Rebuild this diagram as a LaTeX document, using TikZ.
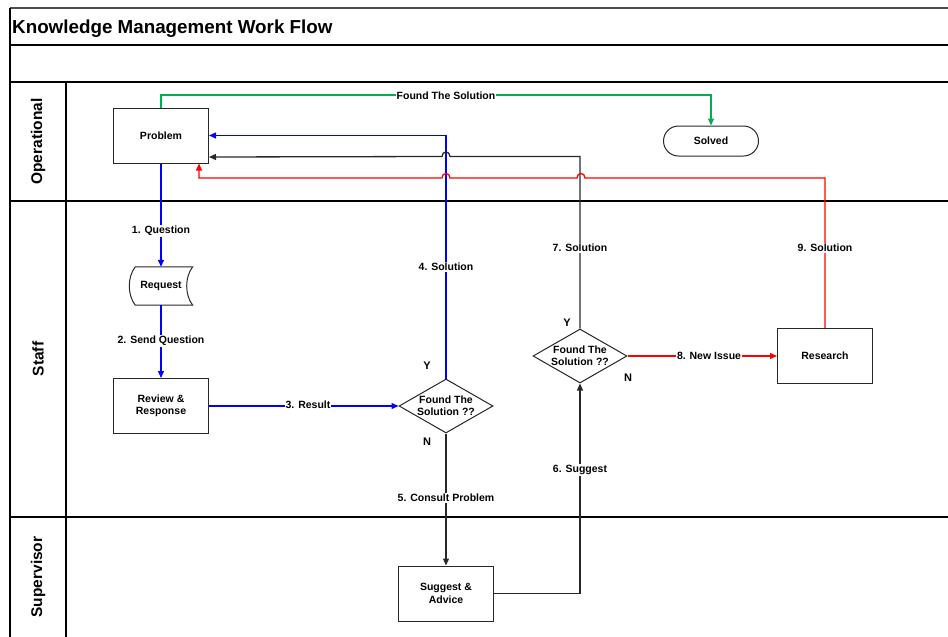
\documentclass[tikz,border=0pt]{standalone}
\usepackage{fontspec}
\setmainfont{Liberation Sans}
\usetikzlibrary{arrows.meta,shapes.geometric}
\newcommand\kmfont{\fontsize{10.5}{12.5}\selectfont\bfseries}
\definecolor{kmgreen}{RGB}{0,176,80}
\definecolor{kmblue}{RGB}{0,0,255}
\definecolor{kmred}{RGB}{255,0,0}
\definecolor{kmline}{RGB}{40,40,40}
\begin{document}
\begin{tikzpicture}[x=1pt,y=-1pt,
  box/.style={draw=kmline, line width=1pt, minimum width=95pt, minimum height=55pt, inner sep=0pt, font=\kmfont, align=center},
  decision/.style={diamond, draw=kmline, line width=1pt, minimum width=94pt, minimum height=54pt, inner sep=0pt},
  txt/.style={font=\kmfont, align=center, inner sep=0pt},
  lbl/.style={fill=white, inner sep=1pt, font=\kmfont},
  lane/.style={rotate=90, font=\fontsize{15.5}{18}\selectfont\bfseries, inner sep=0pt},
  yn/.style={font=\fontsize{11}{13}\selectfont\bfseries, inner sep=0pt},
  conn/.style={line width=1.3pt, -{Triangle[length=7pt,width=6pt]}},
  frame/.style={line width=1.1pt, black}
]
\useasboundingbox (0,0) rectangle (948,637);
% frame
\draw[line width=1.8pt, black!70] (10,8) -- (948,8);
\draw[frame] (10,8) -- (10,637);
\draw[frame] (10,45) -- (948,45);
\draw[frame] (10,82) -- (948,82);
\draw[frame] (10,201) -- (948,201);
\draw[frame] (10,517) -- (948,517);
\draw[frame] (66,82) -- (66,637);
\node[anchor=base west, font=\fontsize{18.8}{22}\selectfont\bfseries, inner sep=0pt] (title) at (12,33) {Knowledge Management Work Flow};
\node[lane] (lop) at (38,141.5) {Operational};
\node[lane] (lst) at (38,359) {Staff};
\node[lane] (lsu) at (38,577) {Supervisor};
% nodes
\node[box] (problem) at (161,135.5) {Problem};
\node[draw=kmline, line width=1pt, rounded corners=15pt, minimum width=95pt, minimum height=30pt, inner sep=0pt, font=\kmfont] (solved) at (711,141) {Solved};
\node[inner sep=0pt, minimum width=63pt, minimum height=38pt, font=\kmfont] (request) at (161,286) {Request};
\draw[draw=kmline, line width=1pt] ([xshift=6pt]request.north west) -- (request.north east)
  .. controls ([xshift=-8pt,yshift=-10pt]request.north east) and ([xshift=-8pt,yshift=10pt]request.south east) .. (request.south east)
  -- ([xshift=6pt]request.south west)
  .. controls ([xshift=-2pt,yshift=10pt]request.south west) and ([xshift=-2pt,yshift=-10pt]request.north west) .. cycle;
\node[box] (review) at (161,406) {Review \&\\Response};
\node[decision] (d1) at (446,406) {};
\node[txt] (d1t) at (446,405.5) {Found The\\Solution ??};
\node[decision] (d2) at (580,356) {};
\node[txt] (d2t) at (580,355.5) {Found The\\Solution ??};
\node[box] (research) at (825,356) {Research};
\node[box] (suggest) at (446,593.5) {Suggest \&\\Advice};
% connectors
\draw[conn, kmgreen] (problem.north) -- ++(0,-12.5) -| (solved.north);
\draw[conn, kmblue] (problem.south) -- (request.north);
\draw[conn, kmblue] (request.south) -- (review.north);
\draw[conn, kmblue] (review.east) -- (d1.west);
\draw[conn, kmblue] (d1.north) |- (problem.east);
\draw[conn, kmline] (d1.south) -- (suggest.north);
\draw[conn, kmline] (suggest.east) -| (d2.south);
\draw[conn, kmline] (d2.north) |- (450,156.5) .. controls (450,150.5) and (442,150.5) .. (442,156.5) -- ([yshift=6.5pt]problem.south east);
\draw[conn, kmred] (d2.east) -- (research.west);
\draw[conn, kmred] (research.north) |- (585,178) .. controls (585,172) and (577,172) .. (577,178) -- (450,178) .. controls (450,172) and (442,172) .. (442,178) -| ([xshift=-10pt]problem.south east);
% labels
\node[lbl] (l0) at (446,95.5) {Found The Solution};
\node[lbl] (l1) at (161,231) {1. Question};
\node[lbl] (l2) at (161,341) {2. Send Question};
\node[lbl] (l3) at (308,405) {3. Result};
\node[lbl] (l4) at (446,267) {4. Solution};
\node[lbl] (l5) at (446,498) {5. Consult Problem};
\node[lbl] (l6) at (580,470) {6. Suggest};
\node[lbl] (l7) at (580,248) {7. Solution};
\node[lbl] (l8) at (709,356) {8. New Issue};
\node[lbl] (l9) at (825,248) {9. Solution};
\node[yn] (y1) at (427,366) {Y};
\node[yn] (n1) at (427,442) {N};
\node[yn] (y2) at (567,323) {Y};
\node[yn] (n2) at (628,378) {N};
\end{tikzpicture}
\end{document}
